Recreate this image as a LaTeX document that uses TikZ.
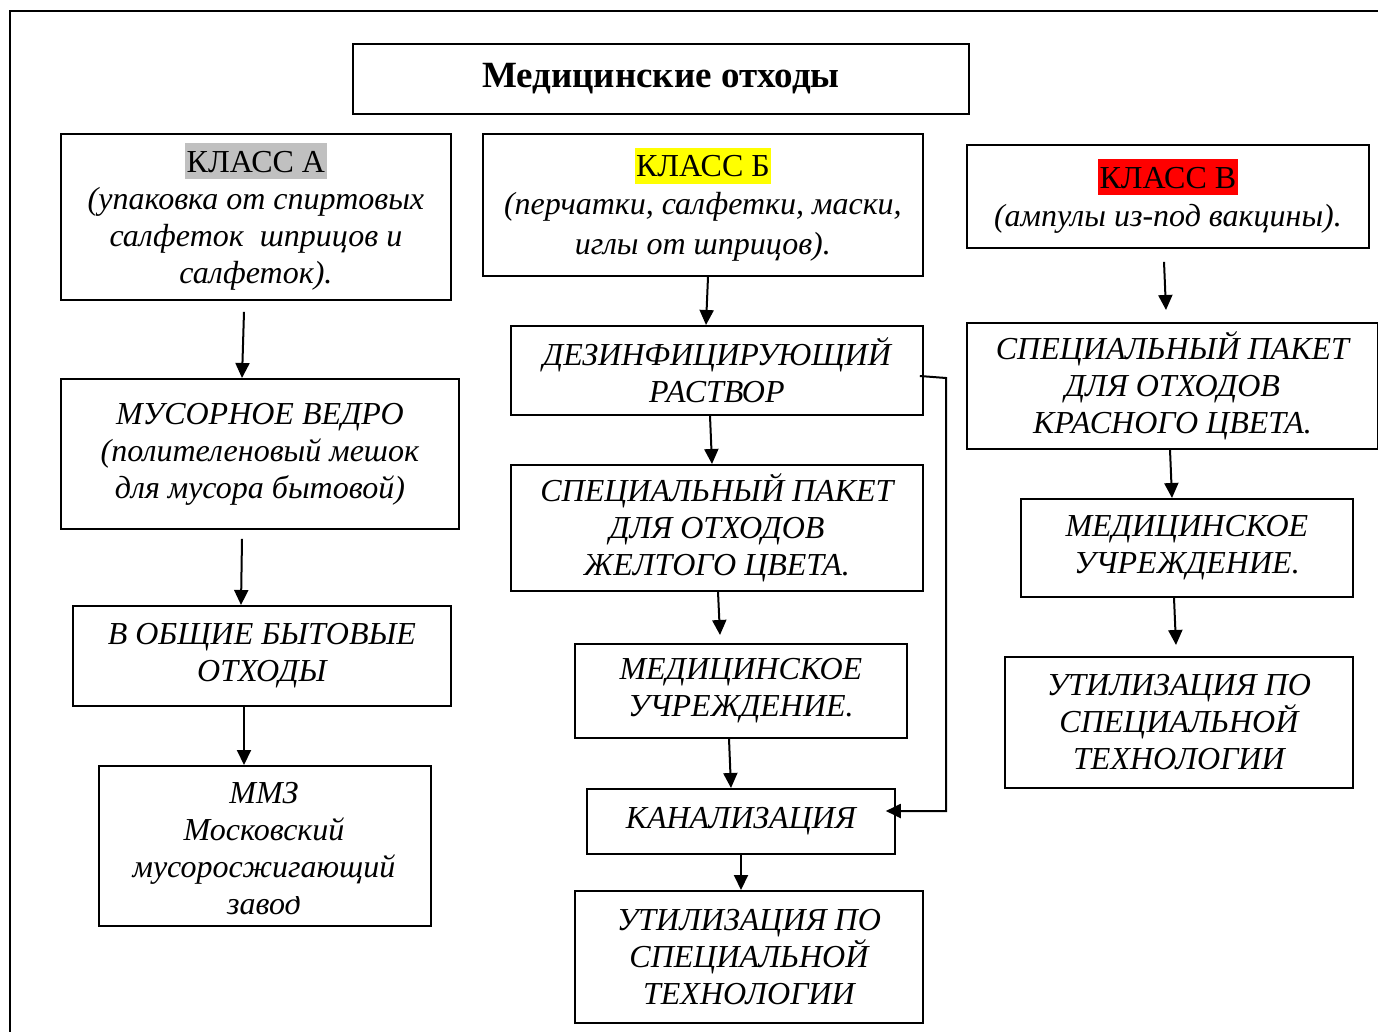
\documentclass[tikz,border=0pt]{standalone}
\usepackage{fontspec}
\setmainfont{Liberation Serif}
\usetikzlibrary{arrows.meta,calc}
\definecolor{hlgrey}{RGB}{192,192,192}
\definecolor{hlyellow}{RGB}{255,255,0}
\definecolor{hlred}{RGB}{255,0,0}
\newcommand{\hl}[2]{{\setlength{\fboxsep}{1.5pt}\colorbox{#1}{\upshape\rule[-5.5pt]{0pt}{33pt}#2}}}
\begin{document}
\begin{tikzpicture}[x=1pt,y=-1pt,
  box/.style={draw, line width=1.8pt, inner sep=0pt, align=center, anchor=north west,
    font=\fontsize{32}{37}\selectfont\itshape},
  arr/.style={line width=2pt, -{Triangle[length=15pt,width=14pt]}},
  frame/.style={line width=1.8pt}]
\useasboundingbox (0,0) rectangle (1378,1032);
\fill[white] (0,0) rectangle (1378,1032);
\draw[frame] (10,1032) -- (10,11) -- (1378,11);

% title
\node[box, minimum width=616pt, minimum height=70pt, font=\fontsize{37}{42}\selectfont\bfseries] (title) at (352,43) {Медицинские отходы};

% column A
\node[box, minimum width=390pt, minimum height=166pt] (ka) at (60,133)
  {\hl{hlgrey}{КЛАСС А}\\(упаковка от спиртовых\\салфеток\ \ шприцов и\\салфеток).};
\node[box, minimum width=398pt, minimum height=150pt] (mv) at (60,378)
  {МУСОРНОЕ ВЕДРО\\(полителеновый мешок\\для мусора бытовой)};
\node[box, minimum width=378pt, minimum height=100pt] (ob) at (72,605)
  {В ОБЩИЕ БЫТОВЫЕ\\ОТХОДЫ};
\node[box, minimum width=332pt, minimum height=160pt] (mmz) at (98,765) {};
\begin{scope}
  \clip (98,765) rectangle (430,889) (98,896) rectangle (430,925);
  \node[font=\fontsize{32}{37}\selectfont\itshape, align=center, inner sep=0pt, anchor=base] (mmzt) at (264,914)
    {ММЗ\\Московский\\мусоросжигающий\\завод};
\end{scope}

% column B
\node[box, minimum width=440pt, minimum height=142pt] (kb) at (482,133)
  {\hl{hlyellow}{КЛАСС Б}\\[1pt](перчатки, салфетки, маски,\\[3pt]иглы от шприцов).};
\node[box, minimum width=412pt, minimum height=89pt] (dez) at (510,325)
  {ДЕЗИНФИЦИРУЮЩИЙ\\РАСТВОР};
\node[box, minimum width=412pt, minimum height=126pt] (yel) at (510,464)
  {СПЕЦИАЛЬНЫЙ ПАКЕТ\\ДЛЯ ОТХОДОВ\\ЖЕЛТОГО ЦВЕТА.};
\node[box, minimum width=332pt, minimum height=94pt] (med1) at (574,643)
  {МЕДИЦИНСКОЕ\\УЧРЕЖДЕНИЕ.};
\node[box, minimum width=308pt, minimum height=65pt] (kan) at (586,788)
  {КАНАЛИЗАЦИЯ};
\node[box, minimum width=348pt, minimum height=132pt] (ut1) at (574,890)
  {УТИЛИЗАЦИЯ ПО\\СПЕЦИАЛЬНОЙ\\ТЕХНОЛОГИИ};

% column V
\node[box, minimum width=402pt, minimum height=103pt] (kv) at (966,144)
  {\hl{hlred}{КЛАСС В}\\[1pt](ампулы из-под вакцины).};
\node[box, minimum width=411pt, minimum height=126pt] (red) at (966,322)
  {СПЕЦИАЛЬНЫЙ ПАКЕТ\\ДЛЯ ОТХОДОВ\\КРАСНОГО ЦВЕТА.};
\node[box, minimum width=332pt, minimum height=98pt] (med2) at (1020,498)
  {МЕДИЦИНСКОЕ\\УЧРЕЖДЕНИЕ.};
\node[box, minimum width=348pt, minimum height=131pt] (ut2) at (1004,656)
  {УТИЛИЗАЦИЯ ПО\\СПЕЦИАЛЬНОЙ\\ТЕХНОЛОГИИ};

% arrows column A
\draw[arr] ($(ka.south west)+(184,11)$) -- ($(mv.north west)+(182,0)$);
\draw[arr] ($(mv.south west)+(182,9)$) -- ($(ob.north west)+(169,0)$);
\draw[arr] ($(ob.south west)+(172,0)$) -- ($(mmz.north west)+(146,0)$);

% arrows column B
\draw[arr] ($(kb.south west)+(226,0)$) -- ($(dez.north west)+(196,0)$);
\draw[arr] ($(dez.south west)+(200,0)$) -- ($(yel.north west)+(202,0)$);
\draw[arr] ($(yel.south west)+(208,0)$) -- ($(med1.north west)+(146,-8)$);
\draw[arr] ($(med1.south west)+(155,0)$) -- ($(kan.north west)+(145,0)$);
\draw[arr] ($(kan.south west)+(155,0)$) -- ($(ut1.north west)+(167,0)$);
\coordinate (side) at (946,378);
\draw[arr] ($(dez.north east)+(-4,51)$) -- (side) -- (side |- 0,811) -- ($(kan.north east)+(-10,23)$);

% arrows column V
\draw[arr] ($(kv.south west)+(198,13)$) -- ($(red.north west)+(200,-12)$);
\draw[arr] ($(red.south west)+(204,0)$) -- ($(med2.north west)+(152,0)$);
\draw[arr] ($(med2.south west)+(154,0)$) -- ($(ut2.north west)+(172,-11)$);
\end{tikzpicture}
\end{document}
